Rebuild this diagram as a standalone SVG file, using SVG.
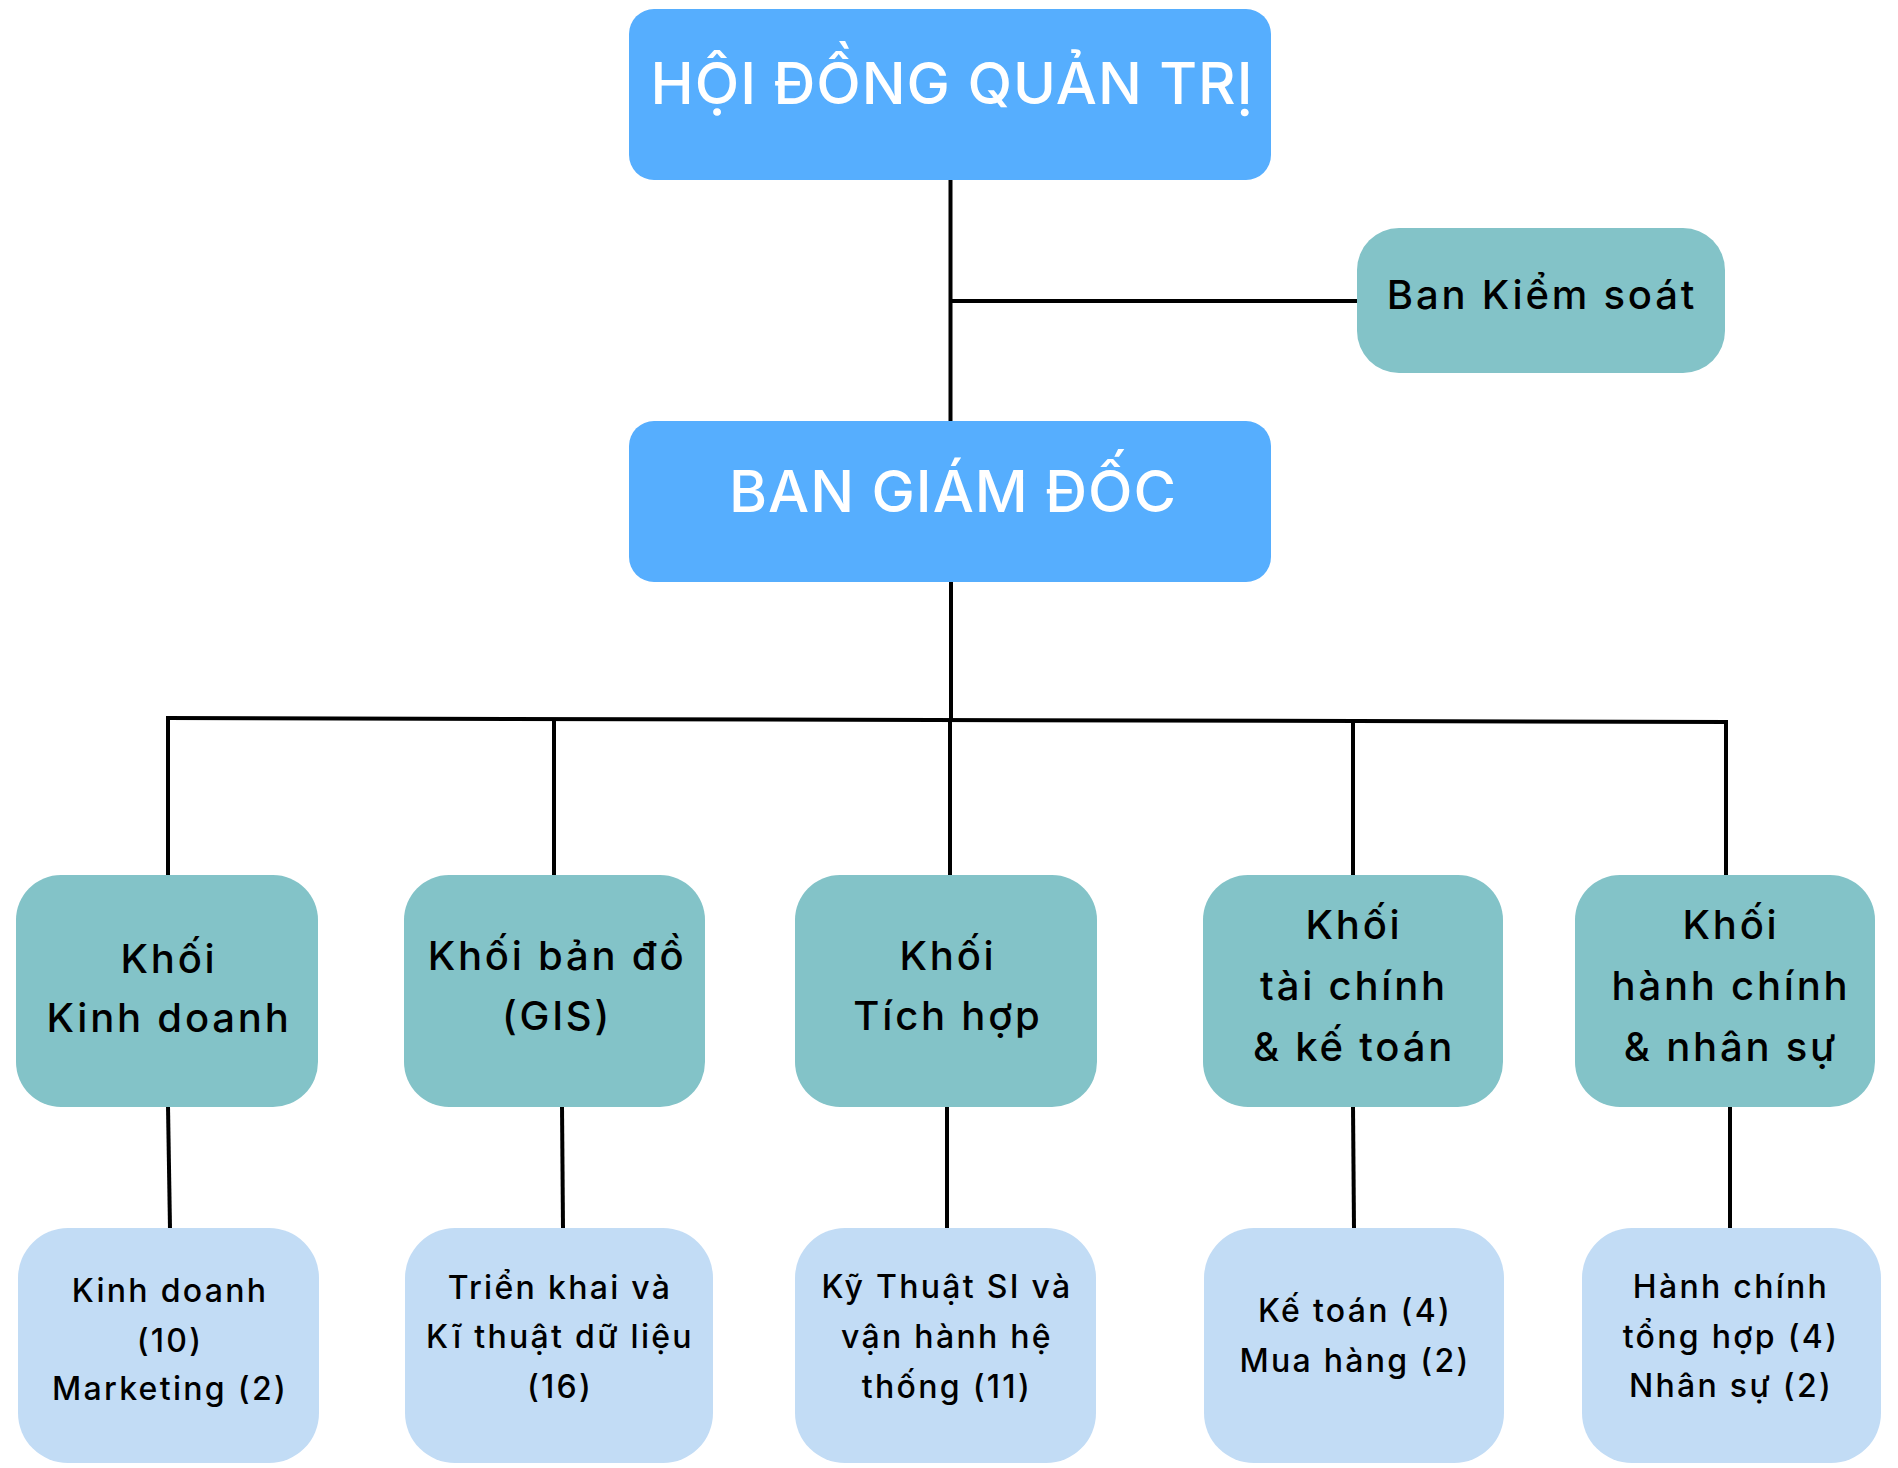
<svg xmlns="http://www.w3.org/2000/svg" width="1898" height="1468" viewBox="0 0 1898 1468">
<style>
.top{fill:#56AEFE}
.mid{fill:#83C3C8}
.low{fill:#C2DCF5}
text{font-family:Inter,"Noto Sans","Liberation Sans",sans-serif;text-anchor:middle;font-weight:500}
.t1{font-size:58px;fill:#FFFFFF;letter-spacing:1px}
.t2{font-size:40px;fill:#000000;letter-spacing:2.8px}
.t3{font-size:32px;fill:#000000;letter-spacing:2.3px}
.c{stroke:#000;stroke-width:4;fill:none}
</style>
<rect width="1898" height="1468" fill="#FFFFFF"/>
<g id="connectors">
<path class="c" d="M950.5 180 V421"/>
<path class="c" d="M950.5 301 H1358"/>
<path class="c" d="M951 582 V719"/>
<path class="c" d="M166 718 L1728 722"/>
<path class="c" d="M168 716 V876"/>
<path class="c" d="M554 718 V876"/>
<path class="c" d="M950 719 V876"/>
<path class="c" d="M1353 720 V876"/>
<path class="c" d="M1726 720 V876"/>
<path class="c" d="M168 1106 L170 1229"/>
<path class="c" d="M562 1106 L563 1229"/>
<path class="c" d="M947 1106 V1229"/>
<path class="c" d="M1353 1106 L1354 1229"/>
<path class="c" d="M1730 1106 V1229"/>
</g>
<g id="hdqt">
<rect class="top" x="629" y="9" width="642" height="171" rx="25"/>
<text class="t1" x="952" y="104">HỘI ĐỒNG QUẢN TRỊ</text>
</g>
<g id="bks">
<rect class="mid" x="1357" y="228" width="368" height="145" rx="42"/>
<text class="t2" x="1542" y="309">Ban Kiểm soát</text>
</g>
<g id="bgd">
<rect class="top" x="629" y="421" width="642" height="161" rx="25"/>
<text class="t1" x="953" y="512">BAN GIÁM ĐỐC</text>
</g>
<g id="kinhdoanh">
<rect class="mid" x="16" y="875" width="302" height="232" rx="45"/>
<text class="t2" x="169" y="973">Khối</text>
<text class="t2" x="169" y="1032">Kinh doanh</text>
</g>
<g id="bando">
<rect class="mid" x="404" y="875" width="301" height="232" rx="45"/>
<text class="t2" x="557" y="970">Khối bản đồ</text>
<text class="t2" x="557" y="1030">(GIS)</text>
</g>
<g id="tichhop">
<rect class="mid" x="795" y="875" width="302" height="232" rx="45"/>
<text class="t2" x="948" y="970">Khối</text>
<text class="t2" x="948" y="1030">Tích hợp</text>
</g>
<g id="taichinh">
<rect class="mid" x="1203" y="875" width="300" height="232" rx="45"/>
<text class="t2" x="1354" y="939">Khối</text>
<text class="t2" x="1354" y="1000">tài chính</text>
<text class="t2" x="1354" y="1061">&amp; kế toán</text>
</g>
<g id="hanhchinh">
<rect class="mid" x="1575" y="875" width="300" height="232" rx="45"/>
<text class="t2" x="1731" y="939">Khối</text>
<text class="t2" x="1731" y="1000">hành chính</text>
<text class="t2" x="1731" y="1061">&amp; nhân sự</text>
</g>
<g id="kd-sub">
<rect class="low" x="18" y="1228" width="301" height="235" rx="50"/>
<text class="t3" x="170" y="1302">Kinh doanh</text>
<text class="t3" x="170" y="1352">(10)</text>
<text class="t3" x="170" y="1400">Marketing (2)</text>
</g>
<g id="gis-sub">
<rect class="low" x="405" y="1228" width="308" height="235" rx="50"/>
<text class="t3" x="560" y="1299">Triển khai và</text>
<text class="t3" x="560" y="1348">Kĩ thuật dữ liệu</text>
<text class="t3" x="560" y="1398">(16)</text>
</g>
<g id="th-sub">
<rect class="low" x="795" y="1228" width="301" height="235" rx="50"/>
<text class="t3" x="947" y="1298">Kỹ Thuật SI và</text>
<text class="t3" x="947" y="1348">vận hành hệ</text>
<text class="t3" x="947" y="1398">thống (11)</text>
</g>
<g id="tc-sub">
<rect class="low" x="1204" y="1228" width="300" height="235" rx="50"/>
<text class="t3" x="1355" y="1322">Kế toán (4)</text>
<text class="t3" x="1355" y="1372">Mua hàng (2)</text>
</g>
<g id="hc-sub">
<rect class="low" x="1582" y="1228" width="299" height="235" rx="50"/>
<text class="t3" x="1731" y="1298">Hành chính</text>
<text class="t3" x="1731" y="1348">tổng hợp (4)</text>
<text class="t3" x="1731" y="1397">Nhân sự (2)</text>
</g>
</svg>
